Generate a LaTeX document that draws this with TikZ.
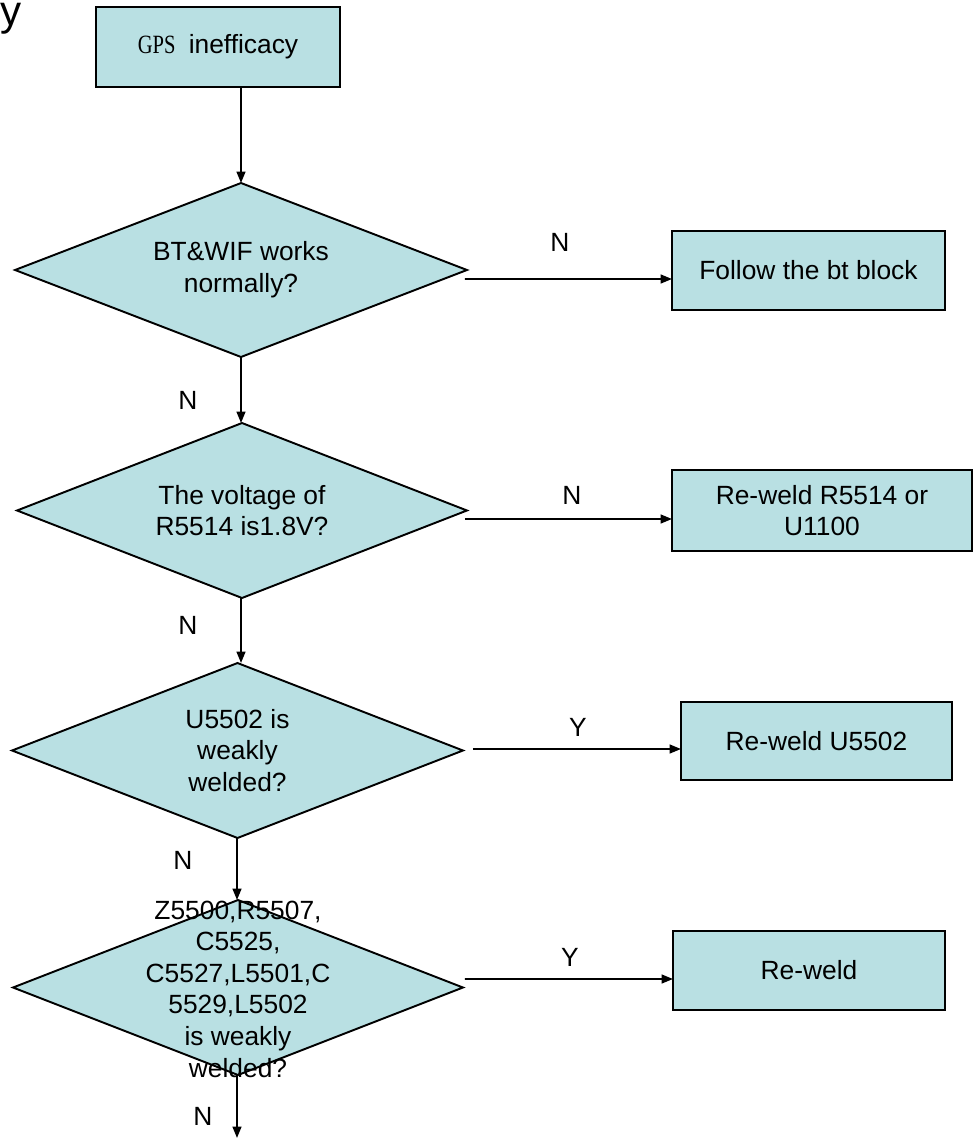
\documentclass[tikz,border=0pt]{standalone}
\usepackage{fontspec}
\setmainfont{Liberation Sans}
\newfontfamily\gpsfont[FakeStretch=0.78]{Liberation Serif}
\usepackage{xcolor}
\usepackage{tikz}
\usetikzlibrary{arrows.meta,positioning,calc,shapes.geometric}
\definecolor{boxfill}{RGB}{185,224,227}

\begin{document}
\begin{tikzpicture}[x=0.02cm, y=-0.02cm, >={Triangle[length=6.5pt,width=5pt]},
  every node/.style={font=\fontsize{15}{18}\selectfont},
  box/.style={rectangle, draw, line width=1.1pt, fill=boxfill, outer sep=0pt, align=center},
  decision/.style={diamond, draw, line width=1.1pt, fill=boxfill, outer sep=0pt, inner sep=0pt},
  dtext/.style={align=center, inner sep=0pt},
  flow/.style={->, line width=1.1pt}]
  % page frame
  \useasboundingbox (0,0) rectangle (973,1138);
  % cut title letter
  \node[anchor=base west, inner sep=0pt, font=\fontsize{24}{28}\selectfont] (ttl) at (0,26) {y};
  % start box
  \node[box, minimum width=4.88cm, minimum height=1.6cm] (start) at (218,47)
    {{\gpsfont GPS}\hspace{0.5em}inefficacy};
  % the decisions, drawn empty, with their text laid on top
  \node[decision, minimum width=9.04cm, minimum height=3.48cm] (d1) at (241,270) {};
  \node[dtext] (t1) at (d1) {BT\&WIF works\\normally?};
  \node[decision, minimum width=9.0cm, minimum height=3.5cm] (d2) at (242,510.5) {};
  \node[dtext] (t2) at (d2) {The voltage of\\R5514 is1.8V?};
  \node[decision, minimum width=9.02cm, minimum height=3.5cm] (d3) at (237.5,750.5) {};
  \node[dtext] (t3) at (d3) {U5502 is\\weakly\\welded?};
  \node[decision, minimum width=9.0cm, minimum height=3.5cm] (d4) at (238,987.5) {};
  \node[dtext] (t4) at (238,989) {Z5500,R5507,\\C5525,\\C5527,L5501,C\\5529,L5502\\is weakly\\welded?};
  % the actions on the right
  \node[box, minimum width=5.46cm, minimum height=1.58cm] (b1) at (808.5,270.5) {Follow the bt block};
  \node[box, minimum width=6.0cm, minimum height=1.62cm] (b2) at (822,510.5) {Re-weld R5514 or\\U1100};
  \node[box, minimum width=5.42cm, minimum height=1.56cm] (b3) at (816.5,741) {Re-weld U5502};
  \node[box, minimum width=5.44cm, minimum height=1.58cm] (b4) at (809,970.5) {Re-weld};
  \coordinate (out) at (237,1138);
  % down the main line
  \draw[flow] (start.south -| d1.north) -- (d1.north);
  \draw[flow] (d1.south) -- (d1.south |- d2.north);
  \draw[flow] (d2.south -| d1.south) -- (d1.south |- d3.north);
  \draw[flow] (d3.south -| out) -- (d4.north -| out);
  \draw[flow] (d4.south -| out) -- (out);
  % across to the actions
  \draw[flow] ($(d1.east)+(-2,9)$) -- ($(b1.west)+(0,8.5)$);
  \draw[flow] ($(d2.east)+(-2,8.5)$) -- ($(b2.west)+(0,8.5)$);
  \draw[flow] ($(d3.east)+(10,-1.5)$) -- ($(b3.west)+(0,8)$);
  \draw[flow] ($(d4.east)+(2,-8.5)$) -- ($(b4.west)+(0,8.5)$);
  % branch letters
  \node (n1) at (560,242) {N};
  \node (n2) at (188,400) {N};
  \node (n3) at (572,495) {N};
  \node (n4) at (188,625) {N};
  \node (y1) at (578,727) {Y};
  \node (n5) at (183,860) {N};
  \node (y2) at (570,957) {Y};
  \node (n6) at (203,1116) {N};
\end{tikzpicture}
\end{document}
